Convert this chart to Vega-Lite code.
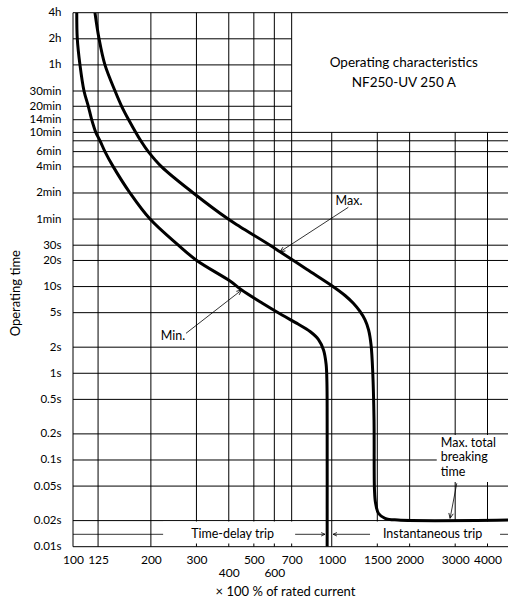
{
  "$schema": "https://vega.github.io/schema/vega-lite/v6.json",
  "width": 435,
  "height": 534,
  "autosize": {"type": "none"},
  "padding": {"left": 73, "top": 12.7, "right": 0, "bottom": 56.3},
  "background": "white",
  "config": {
    "view": {"stroke": null},
    "font": "Lato",
    "axis": {
      "labelFont": "Lato", "titleFont": "Lato", "labelColor": "#000", "titleColor": "#000",
      "labelFontSize": 12, "titleFontSize": 13, "titleFontWeight": "normal",
      "domain": false, "ticks": false, "grid": false,
      "labelOverlap": false, "labelBound": false, "labelFlush": false
    }
  },
  "datasets": {
    "hgrid": [
      {"y": 14400, "x": 100, "x2": 4800},
      {"y": 7200, "x": 100, "x2": 700},
      {"y": 3600, "x": 100, "x2": 700},
      {"y": 1800, "x": 100, "x2": 700},
      {"y": 1200, "x": 100, "x2": 700},
      {"y": 840, "x": 100, "x2": 700},
      {"y": 600, "x": 100, "x2": 4800},
      {"y": 480, "x": 100, "x2": 4800},
      {"y": 360, "x": 100, "x2": 4800},
      {"y": 240, "x": 100, "x2": 4800},
      {"y": 120, "x": 100, "x2": 4800},
      {"y": 60, "x": 100, "x2": 4800},
      {"y": 30, "x": 100, "x2": 4800},
      {"y": 20, "x": 100, "x2": 4800},
      {"y": 10, "x": 100, "x2": 4800},
      {"y": 5, "x": 100, "x2": 4800},
      {"y": 2, "x": 100, "x2": 4800},
      {"y": 1, "x": 100, "x2": 4800},
      {"y": 0.5, "x": 100, "x2": 4800},
      {"y": 0.2, "x": 100, "x2": 4800},
      {"y": 0.1, "x": 100, "x2": 4800},
      {"y": 0.05, "x": 100, "x2": 4800},
      {"y": 0.02, "x": 100, "x2": 4800},
      {"y": 0.01, "x": 100, "x2": 4800}
    ],
    "vgrid": [
      {"x": 100, "y": 0.01, "y2": 14400},
      {"x": 125, "y": 0.01, "y2": 14400},
      {"x": 200, "y": 0.01, "y2": 14400},
      {"x": 300, "y": 0.01, "y2": 14400},
      {"x": 400, "y": 0.01, "y2": 14400},
      {"x": 500, "y": 0.01, "y2": 14400},
      {"x": 600, "y": 0.01, "y2": 14400},
      {"x": 700, "y": 0.01, "y2": 14400},
      {"x": 1000, "y": 0.01, "y2": 600},
      {"x": 1500, "y": 0.01, "y2": 600},
      {"x": 2000, "y": 0.01, "y2": 600},
      {"x": 3000, "y": 0.01, "y2": 600},
      {"x": 4000, "y": 0.01, "y2": 600}
    ],
    "boxes": [
      {"x": 2546, "x2": 4800, "y": 0.0557, "y2": 0.194},
      {"x": 223, "x2": 942, "y": 0.01088, "y2": 0.0195},
      {"x": 1020, "x2": 4800, "y": 0.01088, "y2": 0.0195}
    ],
    "curves": [
      {"curve": "Min", "i": 1, "x": 103.4, "y": 14400},
      {"curve": "Min", "i": 2, "x": 103.9, "y": 7200},
      {"curve": "Min", "i": 3, "x": 106.4, "y": 3600},
      {"curve": "Min", "i": 4, "x": 110.3, "y": 1800},
      {"curve": "Min", "i": 5, "x": 114.6, "y": 1200},
      {"curve": "Min", "i": 6, "x": 118.1, "y": 840},
      {"curve": "Min", "i": 7, "x": 122.5, "y": 600},
      {"curve": "Min", "i": 8, "x": 127.2, "y": 480},
      {"curve": "Min", "i": 9, "x": 132.9, "y": 360},
      {"curve": "Min", "i": 10, "x": 143.2, "y": 240},
      {"curve": "Min", "i": 11, "x": 166.1, "y": 120},
      {"curve": "Min", "i": 12, "x": 198.5, "y": 60},
      {"curve": "Min", "i": 13, "x": 255.3, "y": 30},
      {"curve": "Min", "i": 14, "x": 300.8, "y": 20},
      {"curve": "Min", "i": 15, "x": 404.5, "y": 11.59},
      {"curve": "Min", "i": 16, "x": 448.8, "y": 9.13},
      {"curve": "Min", "i": 17, "x": 537.8, "y": 6.46},
      {"curve": "Min", "i": 18, "x": 642.7, "y": 4.7},
      {"curve": "Min", "i": 19, "x": 740.9, "y": 3.7},
      {"curve": "Min", "i": 20, "x": 824.5, "y": 3.03},
      {"curve": "Min", "i": 21, "x": 889, "y": 2.45},
      {"curve": "Min", "i": 22, "x": 929.6, "y": 1.855},
      {"curve": "Min", "i": 23, "x": 951, "y": 1.279},
      {"curve": "Min", "i": 24, "x": 958, "y": 0.793},
      {"curve": "Min", "i": 25, "x": 960, "y": 0.29},
      {"curve": "Min", "i": 26, "x": 960, "y": 0.01},
      {"curve": "Max", "i": 1, "x": 121.6, "y": 14400},
      {"curve": "Max", "i": 2, "x": 126.1, "y": 7200},
      {"curve": "Max", "i": 3, "x": 132.9, "y": 3600},
      {"curve": "Max", "i": 4, "x": 145.4, "y": 1800},
      {"curve": "Max", "i": 5, "x": 154.2, "y": 1200},
      {"curve": "Max", "i": 6, "x": 164.1, "y": 840},
      {"curve": "Max", "i": 7, "x": 182.8, "y": 480},
      {"curve": "Max", "i": 8, "x": 195.4, "y": 360},
      {"curve": "Max", "i": 9, "x": 220.2, "y": 240},
      {"curve": "Max", "i": 10, "x": 291.7, "y": 120},
      {"curve": "Max", "i": 11, "x": 398, "y": 60},
      {"curve": "Max", "i": 12, "x": 442.1, "y": 49},
      {"curve": "Max", "i": 13, "x": 577.5, "y": 30},
      {"curve": "Max", "i": 14, "x": 631, "y": 25.2},
      {"curve": "Max", "i": 15, "x": 802.8, "y": 15.73},
      {"curve": "Max", "i": 16, "x": 1014, "y": 9.96},
      {"curve": "Max", "i": 17, "x": 1125.7, "y": 7.89},
      {"curve": "Max", "i": 18, "x": 1212, "y": 6.41},
      {"curve": "Max", "i": 19, "x": 1286, "y": 5.16},
      {"curve": "Max", "i": 20, "x": 1345, "y": 4.12},
      {"curve": "Max", "i": 21, "x": 1388, "y": 3.16},
      {"curve": "Max", "i": 22, "x": 1419, "y": 2.12},
      {"curve": "Max", "i": 23, "x": 1441, "y": 1.0},
      {"curve": "Max", "i": 24, "x": 1457, "y": 0.289},
      {"curve": "Max", "i": 25, "x": 1463, "y": 0.045},
      {"curve": "Max", "i": 26, "x": 1477, "y": 0.0319},
      {"curve": "Max", "i": 27, "x": 1517, "y": 0.02414},
      {"curve": "Max", "i": 28, "x": 1607, "y": 0.02125},
      {"curve": "Max", "i": 29, "x": 1805, "y": 0.0203},
      {"curve": "Max", "i": 30, "x": 4800, "y": 0.0203}
    ],
    "arrows": [
      {"x": 1159, "y": 82.1, "x2": 631, "y2": 25.2},
      {"x": 273.4, "y": 2.89, "x2": 448.8, "y2": 9.13},
      {"x": 3043, "y": 0.0539, "x2": 2867, "y2": 0.02126},
      {"x": 100, "y": 0.0139, "x2": 223, "y2": 0.0139},
      {"x": 722, "y": 0.0139, "x2": 942, "y2": 0.0139},
      {"x": 1012, "y": 0.0139, "x2": 1406, "y2": 0.0139},
      {"x": 4472, "y": 0.0139, "x2": 4800, "y2": 0.0139}
    ],
    "heads": [
      {"id": "max", "x": 631, "y": 25.2},
      {"id": "min", "x": 448.8, "y": 9.13},
      {"id": "total", "x": 2867, "y": 0.02126},
      {"id": "td", "x": 942, "y": 0.0139},
      {"id": "inst", "x": 1012, "y": 0.0139}
    ],
    "labels": [
      {"x": 1166, "y": 98.3, "label": "Max."},
      {"x": 243.6, "y": 2.69, "label": "Min."},
      {"x": 413.7, "y": 0.0139, "label": "Time-delay trip"},
      {"x": 2453, "y": 0.0139, "label": "Instantaneous trip"}
    ],
    "notes": [
      {"x": 2639, "y": 0.1582, "label": ["Max. total", "breaking", "time"]}
    ],
    "titles": [
      {"x": 1899, "y": 3757, "label": ["Operating characteristics", "NF250-UV 250 A"]}
    ]
  },
  "encoding": {
    "x": {
      "field": "x", "type": "quantitative",
      "scale": {"type": "log", "domain": [100, 4800], "nice": false, "zero": false},
      "axis": {
        "values": [100, 125, 200, 300, 400, 500, 600, 700, 1000, 1500, 2000, 3000, 4000],
        "labelExpr": "(datum.value === 400 || datum.value === 600) ? ['', '' + datum.value] : '' + datum.value",
        "labelLineHeight": 13,
        "labelPadding": 8,
        "title": "× 100 % of rated current",
        "titleX": 212, "titleY": 45, "titleBaseline": "middle", "titleAlign": "center", "titleAnchor": null
      }
    },
    "y": {
      "field": "y", "type": "quantitative",
      "scale": {"type": "log", "domain": [0.01, 14400], "nice": false, "zero": false},
      "axis": {
        "values": [14400, 7200, 3600, 1800, 1200, 840, 600, 360, 240, 120, 60, 30, 20, 10, 5, 2, 1, 0.5, 0.2, 0.1, 0.05, 0.02, 0.01],
        "labelExpr": "datum.value >= 3600 ? (datum.value / 3600) + 'h' : datum.value >= 60 ? (datum.value / 60) + 'min' : datum.value + 's'",
        "labelFontSize": 11.5,
        "labelPadding": 12,
        "title": "Operating time",
        "titleX": -58, "titleY": 280, "titleBaseline": "middle", "titleAlign": "center", "titleAnchor": null
      }
    }
  },
  "layer": [
    {"data": {"name": "hgrid"}, "mark": {"type": "rule", "color": "#000", "strokeWidth": 1}, "encoding": {"x2": {"field": "x2"}}},
    {"data": {"name": "vgrid"}, "mark": {"type": "rule", "color": "#000", "strokeWidth": 1}, "encoding": {"y2": {"field": "y2"}}},
    {"data": {"name": "boxes"}, "mark": {"type": "rect", "color": "white"}, "encoding": {"x2": {"field": "x2"}, "y2": {"field": "y2"}}},
    {"data": {"name": "curves"}, "mark": {"type": "line", "color": "#000", "strokeWidth": 3, "interpolate": "catmull-rom", "clip": true},
     "encoding": {"detail": {"field": "curve"}, "order": {"field": "i", "type": "quantitative"}}},
    {"data": {"name": "arrows"}, "mark": {"type": "rule", "color": "#000", "strokeWidth": 0.8}, "encoding": {"x2": {"field": "x2"}, "y2": {"field": "y2"}}},
    {"data": {"name": "heads"}, "transform": [{"filter": "datum.id === 'max'"}], "mark": {"type": "point", "shape": "M -1 -0.45 L 0 0 L -1 0.45", "angle": 147, "size": 100, "filled": false, "stroke": "#000", "strokeWidth": 0.8, "opacity": 1}},
    {"data": {"name": "heads"}, "transform": [{"filter": "datum.id === 'min'"}], "mark": {"type": "point", "shape": "M -1 -0.45 L 0 0 L -1 0.45", "angle": 322, "size": 100, "filled": false, "stroke": "#000", "strokeWidth": 0.8, "opacity": 1}},
    {"data": {"name": "heads"}, "transform": [{"filter": "datum.id === 'total'"}], "mark": {"type": "point", "shape": "M -1 -0.45 L 0 0 L -1 0.45", "angle": 101, "size": 100, "filled": false, "stroke": "#000", "strokeWidth": 0.8, "opacity": 1}},
    {"data": {"name": "heads"}, "transform": [{"filter": "datum.id === 'td'"}], "mark": {"type": "point", "shape": "M -1 -0.45 L 0 0 L -1 0.45", "angle": 0, "size": 60, "filled": false, "stroke": "#000", "strokeWidth": 0.8, "opacity": 1}},
    {"data": {"name": "heads"}, "transform": [{"filter": "datum.id === 'inst'"}], "mark": {"type": "point", "shape": "M -1 -0.45 L 0 0 L -1 0.45", "angle": 180, "size": 60, "filled": false, "stroke": "#000", "strokeWidth": 0.8, "opacity": 1}},
    {"data": {"name": "labels"}, "mark": {"type": "text", "font": "Lato", "fontSize": 12.5, "color": "#000", "align": "center", "baseline": "middle"}, "encoding": {"text": {"field": "label"}}},
    {"data": {"name": "notes"}, "mark": {"type": "text", "font": "Lato", "fontSize": 12.5, "color": "#000", "align": "left", "baseline": "middle", "lineHeight": 14.5}, "encoding": {"text": {"field": "label"}}},
    {"data": {"name": "titles"}, "mark": {"type": "text", "font": "Lato", "fontSize": 13.5, "color": "#000", "align": "center", "baseline": "middle", "lineHeight": 20}, "encoding": {"text": {"field": "label"}}}
  ]
}
